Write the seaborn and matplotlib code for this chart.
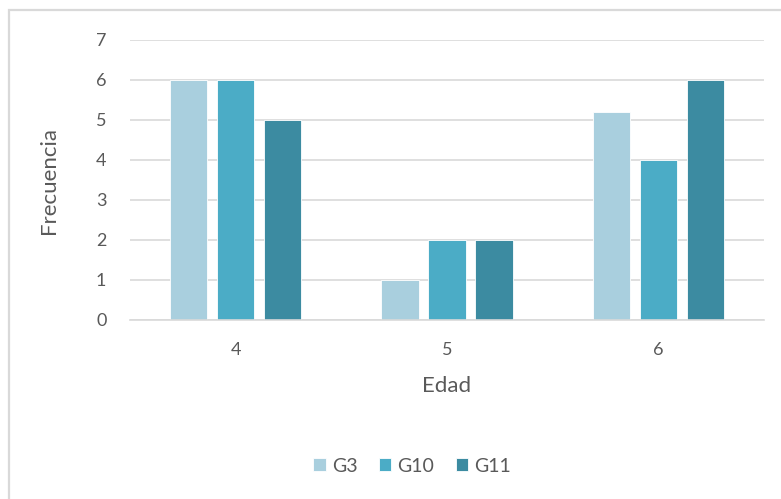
import matplotlib
matplotlib.use("Agg")
import matplotlib.pyplot as plt
from matplotlib.patches import Rectangle
import seaborn as sns
import pandas as pd

# Frequencies by age for each group
edades = ["4", "5", "6"]
grupos = ["G3", "G10", "G11"]
g3 = [6, 1, 5.2]
g10 = [6, 2, 4]
g11 = [5, 2, 6]
colores = ["#A9CFDE", "#4BACC6", "#3C8BA1"]

df = pd.DataFrame({
    "Edad": edades * 3,
    "Grupo": [g for g in grupos for _ in edades],
    "Frecuencia": g3 + g10 + g11,
})

sns.set_theme(style="white")
plt.rcParams["font.family"] = ["Lato", "DejaVu Sans"]
texto = "#595959"

fig = plt.figure(figsize=(7.81, 4.99), dpi=100)
ax = fig.add_axes([130 / 781, 1 - 320 / 499, (764 - 130) / 781, 280 / 499])

sns.barplot(data=df, x="Edad", y="Frecuencia", hue="Grupo", order=edades,
            hue_order=grupos, palette=colores, width=0.667, gap=0.21,
            saturation=1, edgecolor="white", linewidth=0.6, ax=ax, legend=True)

ax.set_ylim(0, 7)
ax.set_yticks(range(0, 8))
ax.set_xlim(-0.5, 2.5)
ax.yaxis.grid(True, color="#D9D9D9", linewidth=1.2)
ax.set_axisbelow(True)
for s in ["top", "right", "left"]:
    ax.spines[s].set_visible(False)
ax.spines["bottom"].set_color("#D9D9D9")
ax.spines["bottom"].set_linewidth(1.2)
ax.tick_params(axis="both", length=0, colors=texto, labelsize=13)
ax.tick_params(axis="y", pad=17)
ax.tick_params(axis="x", pad=16)
ax.set_xlabel("Edad", color=texto, fontsize=16)
ax.set_ylabel("Frecuencia", color=texto, fontsize=16)
ax.yaxis.set_label_coords(-0.112, 0.5)
ax.xaxis.set_label_coords(0.5, -0.2)

ax.legend(loc="center", bbox_to_anchor=(412 / 781, 1 - 466 / 499),
          bbox_transform=fig.transFigure, ncol=3, frameon=False,
          fontsize=14, labelcolor=texto, handlelength=0.65, handleheight=0.65,
          handletextpad=0.3, columnspacing=1.1)

# Chart frame
fig.patches.append(Rectangle((9 / 781, -0.1), 1.2, 1 - 10 / 499 + 0.1,
                             transform=fig.transFigure, fill=False,
                             edgecolor="#D9D9D9", linewidth=1.6))

fig.savefig("out.png", dpi=100)
